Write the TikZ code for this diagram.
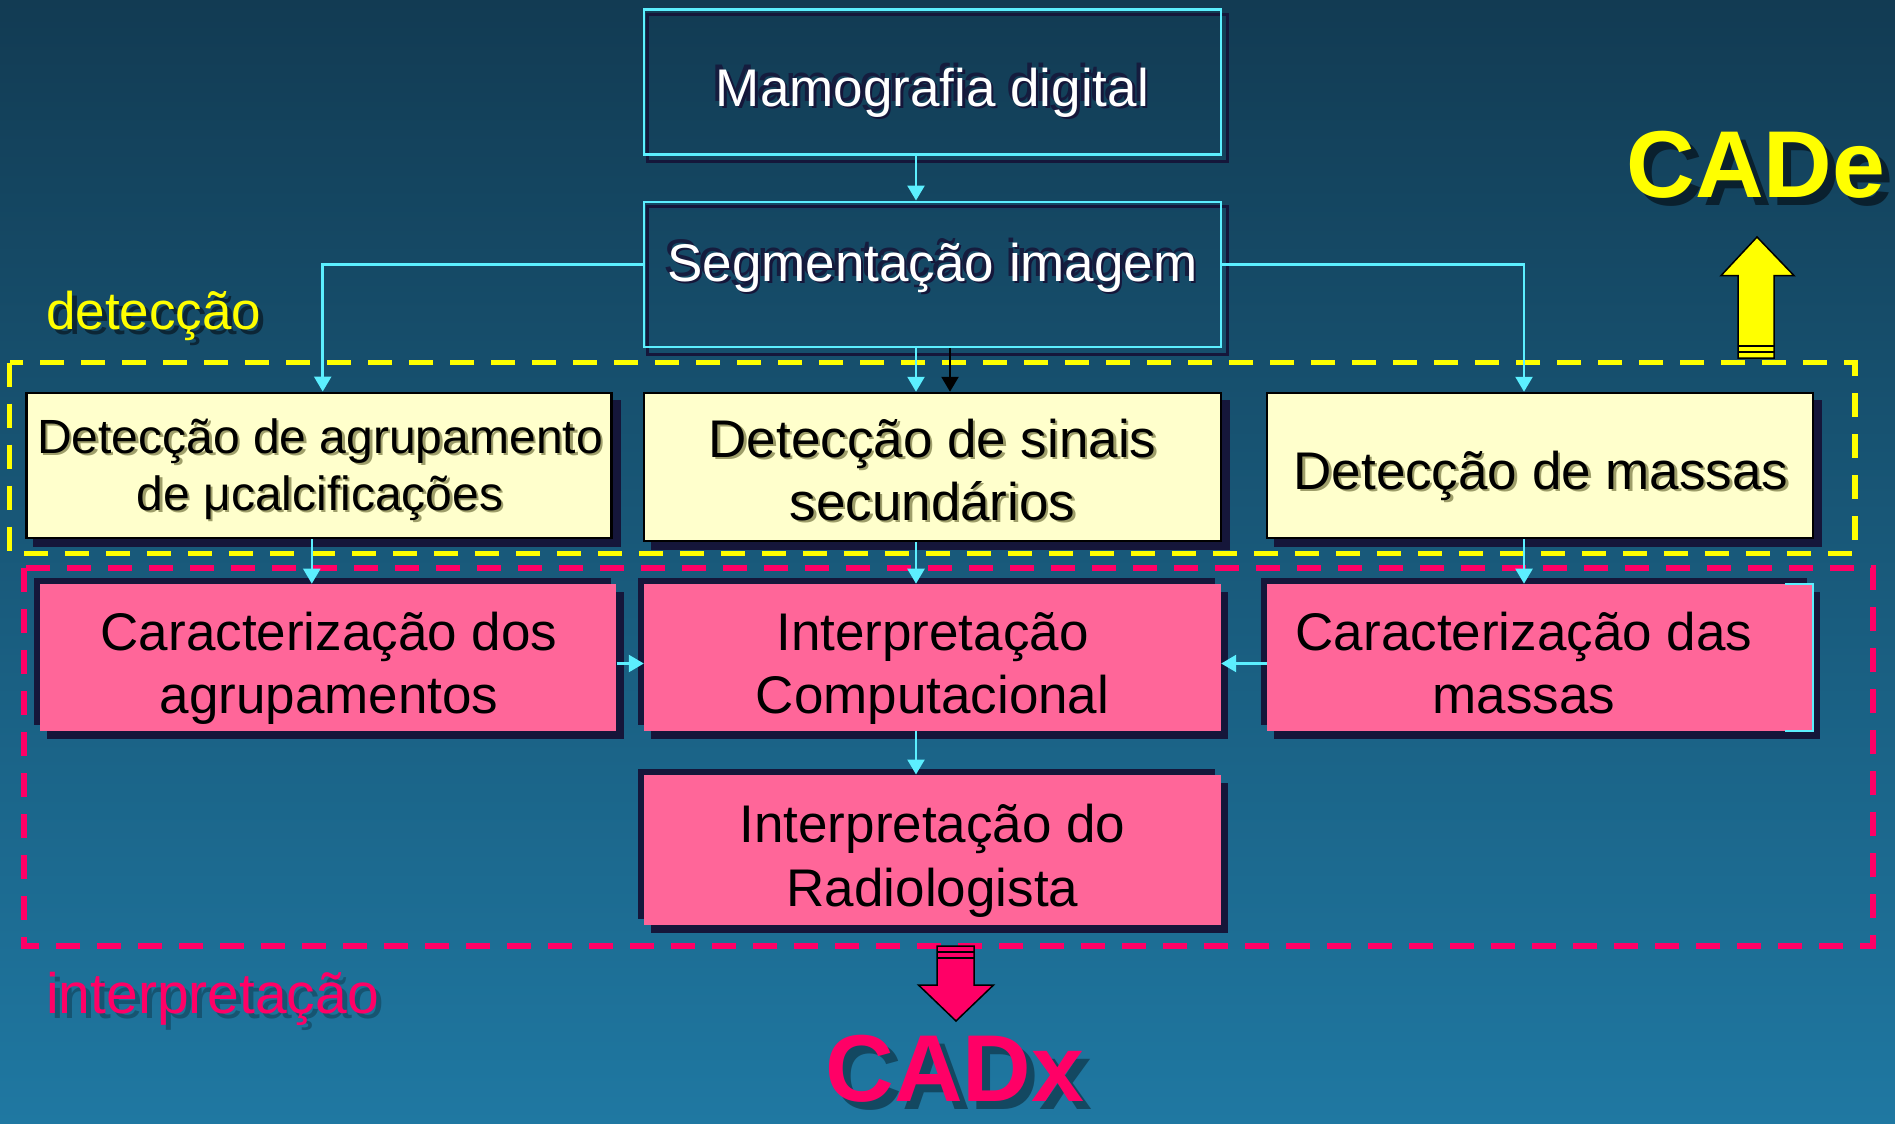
\documentclass[tikz,border=0pt]{standalone}
\usepackage{fontspec}
\setmainfont{Liberation Sans}
\usetikzlibrary{arrows.meta,calc}
\definecolor{bgtop}{HTML}{123B53}
\definecolor{bgbot}{HTML}{1F78A2}
\definecolor{cyanl}{HTML}{5CEFFF}
\definecolor{navy}{HTML}{15163A}
\definecolor{cream}{HTML}{FFFFCC}
\definecolor{pinkf}{HTML}{FF6699}
\definecolor{pinkd}{HTML}{FF0066}
\definecolor{yel}{HTML}{FFFF00}
\definecolor{olivesh}{HTML}{9E9E6A}
\pgfdeclarelayer{back}
\pgfdeclarelayer{shad}
\pgfsetlayers{back,shad,main}
\newcommand\wtxt[1]{\makebox[0pt][l]{\kern-4pt\raisebox{5pt}{\textcolor{navy!85!bgtop}{#1}}}\makebox[0pt][l]{\kern2.5pt\raisebox{-2.5pt}{\textcolor{navy}{#1}}}\textcolor{white}{#1}}
\newcommand\ctxt[1]{\makebox[0pt][l]{\kern2.5pt\raisebox{-2.5pt}{\textcolor{olivesh}{#1}}}\textcolor{black}{#1}}
\newcommand\gtxt[4]{\makebox[0pt][l]{\kern#3\raisebox{-#3}{\textcolor{#4}{#2}}}\textcolor{#1}{#2}}
\begin{document}
\begin{tikzpicture}[x=1pt,y=-1pt,
  cbox/.style={draw=cyanl,line width=2.5pt,minimum width=577pt,minimum height=145pt,inner sep=0pt},
  ybox/.style={draw=black,line width=2.5pt,fill=cream,minimum height=145pt,inner sep=0pt},
  pbox/.style={fill=pinkf,minimum height=147pt,inner sep=0pt},
  wt/.style={anchor=base,inner sep=0pt,font=\fontsize{53}{63}\selectfont},
  st/.style={anchor=base,inner sep=0pt,font=\fontsize{48}{57}\selectfont},
  conn/.style={draw=cyanl,line width=2.5pt,-{Triangle[width=17pt,length=15pt]}},
  dashy/.style={draw=yel,line width=5.5pt,dash pattern=on 24pt off 17pt},
  dashp/.style={draw=pinkd,line width=5.5pt,dash pattern=on 24pt off 17pt},
  blockar/.style={draw=black,line width=1.5pt,line join=miter}
]
\begin{pgfonlayer}{back}
\shade[top color=bgtop,bottom color=bgbot] (0,0) rectangle (1895,1124);
\end{pgfonlayer}
\useasboundingbox (0,0) rectangle (1895,1124);

% dashed group frames
\draw[dashy] (9.7,362.6) rectangle (1855,553.5);
\draw[dashp] (24.2,568) rectangle (1873,946);

% boxes
\node[cbox] (mam) at (932.5,82.2) {};
\node[cbox] (seg) at (932.5,274.3) {};
\node[ybox,minimum width=585pt] (dag) at (319.1,465.3) {};
\node[ybox,minimum width=577pt,minimum height=148pt] (dsi) at (932.5,467) {};
\node[ybox,minimum width=546pt] (dma) at (1539.8,465.5) {};
\node[pbox,minimum width=576.5pt] (cdo) at (328.2,657.4) {};
\node[pbox,minimum width=577pt] (ico) at (932.5,657.4) {};
\node[pbox,minimum width=546pt] (cda) at (1539.8,657.4) {};
\node[pbox,minimum width=577pt,minimum height=150pt] (ira) at (932.5,849.7) {};
\draw[cyanl,line width=2pt] ($(cda.north east)+(-28,0)$) -- (cda.north east) -- (cda.south east) -- ($(cda.south east)+(-28,0)$);

% shadows
\begin{pgfonlayer}{shad}
\foreach \n in {mam,seg}{
  \draw[navy,line width=3pt] ($(\n.north west)+(5,6)$) rectangle ($(\n.south east)+(5,6)$);
}
\foreach \n in {dag,dsi,dma}{
  \fill[navy] ($(\n.north west)+(8,8)$) rectangle ($(\n.south east)+(8,8)$);
}
\foreach \n in {cdo,ico,cda,ira}{
  \fill[navy] ($(\n.north west)+(-6,-6)$) rectangle ($(\n.south east)+(-6,-6)$);
  \fill[navy] ($(\n.north west)+(7,8)$) rectangle ($(\n.south east)+(7,8)$);
}
\end{pgfonlayer}

% texts in boxes
\node[wt] (mamT) at (932.5,106) {\wtxt{Mamografia digital}};
\node[wt] (segT) at (932.5,281) {\wtxt{Segmentação imagem}};
\node[st] (dagT1) at (320,453) {\ctxt{Detecção de agrupamento}};
\node[st] (dagT2) at (320,510) {\ctxt{de μcalcificações}};
\node[wt] (dsiT1) at (932.5,457) {\ctxt{Detecção de sinais}};
\node[wt] (dsiT2) at (932.5,520) {\ctxt{secundários}};
\node[wt] (dmaT) at (1541,489) {\ctxt{Detecção de massas}};
\node[wt] (cdoT1) at (329,650) {Caracterização dos};
\node[wt] (cdoT2) at (329,713) {agrupamentos};
\node[wt] (icoT1) at (932.5,650) {Interpretação};
\node[wt] (icoT2) at (932.5,713) {Computacional};
\node[wt] (cdaT1) at (1524,650) {Caracterização das};
\node[wt] (cdaT2) at (1524,713) {massas};
\node[wt] (iraT1) at (932.5,842) {Interpretação do};
\node[wt] (iraT2) at (932.5,906) {Radiologista};

% connectors
\coordinate (cx) at (916,0);
\coordinate (bx) at (950,0);
\coordinate (lx) at (322.7,0);
\coordinate (l2) at (311.8,0);
\coordinate (rx) at (1524,0);
\coordinate (sy) at (0,264.7);
\coordinate (hy) at (0,663.5);
\draw[conn] (mam.south -| cx) -- (seg.north -| cx);
\draw[conn] (seg.south -| cx) -- (dsi.north -| cx);
\draw[conn,draw=black] (seg.south -| bx) -- (dsi.north -| bx);
\draw[conn] (seg.west |- sy) -| (dag.north -| lx);
\draw[conn] (seg.east |- sy) -| (dma.north -| rx);
\draw[conn] (dag.south -| l2) -- (cdo.north -| l2);
\draw[conn] (dsi.south -| cx) -- (ico.north -| cx);
\draw[conn] (dma.south -| rx) -- (cda.north -| rx);
\draw[conn] (cdo.east |- hy) -- (ico.west |- hy);
\draw[conn] (cda.west |- hy) -- (ico.east |- hy);
\draw[conn] (ico.south -| cx) -- (ira.north -| cx);

% group labels
\node[anchor=base west,inner sep=0pt,font=\fontsize{53}{63}\selectfont] (detl) at (46,329) {\gtxt{yel}{detecção}{5pt}{black!35!bgtop}};
\node[anchor=base west,inner sep=0pt,font=\fontsize{57}{68}\selectfont] (intl) at (46,1013) {\gtxt{pinkd}{interpretação}{5pt}{black!30!bgbot}};

% CADe / CADx
\node[inner sep=0pt,font=\fontsize{95}{95}\selectfont\bfseries] (cade) at (1756,169) {\gtxt{yel}{CADe}{8pt}{black!45!bgtop}};
\node[inner sep=0pt,font=\fontsize{95}{95}\selectfont\bfseries] (cadx) at (955,1073) {\gtxt{pinkd}{CADx}{8pt}{black!40!bgbot}};

% block arrows
\filldraw[blockar,fill=yel] (1738,358) -- (1738,275.6) -- (1721,275.6) -- (1757,237) -- (1794,275.6) -- (1774,275.6) -- (1774,358) -- cycle;
\draw[black,line width=1.5pt] (1738,346) -- (1774,346) (1738,352) -- (1774,352);
\filldraw[blockar,fill=pinkd] (937,946) -- (974,946) -- (974,985) -- (993.5,985) -- (956,1021) -- (918.5,985) -- (937,985) -- cycle;
\draw[black,line width=1.5pt] (937,952) -- (974,952) (937,958) -- (974,958);
\end{tikzpicture}
\end{document}
